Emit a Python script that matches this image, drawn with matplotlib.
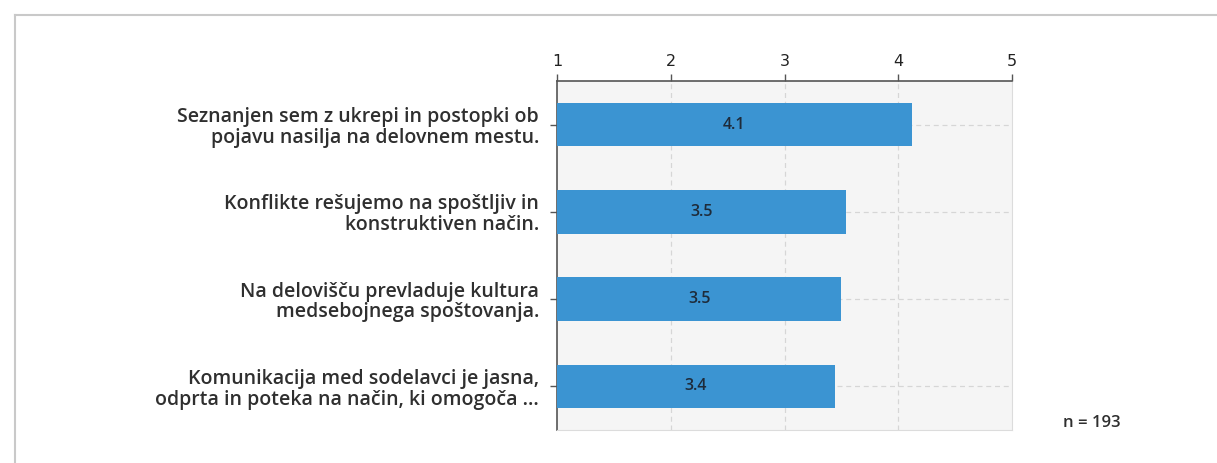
import matplotlib
matplotlib.use("Agg")
import matplotlib.pyplot as plt
from matplotlib.lines import Line2D

# statements and mean scores (1-5 scale)
statements = [
    "Seznanjen sem z ukrepi in postopki ob\npojavu nasilja na delovnem mestu.",
    "Konflikte rešujemo na spoštljiv in\nkonstruktiven način.",
    "Na delovišču prevladuje kultura\nmedsebojnega spoštovanja.",
    "Komunikacija med sodelavci je jasna,\nodprta in poteka na način, ki omogoča ...",
]
means = [4.12, 3.54, 3.50, 3.44]
scale_ticks = [1, 2, 3, 4, 5]
n_resp = 193

BAR = "#3b94d2"
TXT = "#2f2f2f"

fig = plt.figure(figsize=(12.17, 4.63), dpi=100)
ax = fig.add_axes([0.4577, 0.0713, 0.3739, 0.7537])

# outer frame around the chart
fw, fh = 1217, 463
fig.add_artist(Line2D([15 / fw, 1.0], [1 - 15 / fh, 1 - 15 / fh], transform=fig.transFigure,
                      color="#c9c9c9", lw=1.5))
fig.add_artist(Line2D([15 / fw, 15 / fw], [1 - 15 / fh, 0.0], transform=fig.transFigure,
                      color="#c9c9c9", lw=1.5))

ax.set_facecolor("#f5f5f5")
ypos = list(range(len(statements)))
bars = ax.barh(ypos, [m - 1 for m in means], left=1, height=0.5, color=BAR, zorder=3)

for b, m in zip(bars, means):
    ax.text(b.get_x() + b.get_width() / 2, b.get_y() + b.get_height() / 2, f"{m:.1f}",
            ha="center", va="center", fontsize=11.5, color="#1e2b3a", family="Open Sans",
            fontweight="semibold", zorder=4)

# dashed guide lines
for x in scale_ticks[1:-1]:
    ax.axvline(x, color="#d6d6d6", lw=0.9, ls=(0, (4, 3)), zorder=1)
for y in ypos:
    ax.axhline(y, color="#d6d6d6", lw=0.9, ls=(0, (4, 3)), zorder=1)

ax.set_xlim(1, 5)
ax.set_ylim(len(statements) - 0.5, -0.5)
ax.xaxis.tick_top()
ax.set_xticks(scale_ticks)
ax.set_xticklabels([str(t) for t in scale_ticks], fontsize=11.5, color="#222222")
ax.tick_params(axis="x", direction="out", length=5, width=1, color="#555555", pad=4)
ax.set_yticks(ypos)
ax.set_yticklabels(statements, fontsize=14, color=TXT, family="Open Sans",
                   fontweight="semibold", linespacing=1.05)
ax.tick_params(axis="y", direction="out", length=5, width=1, color="#555555", pad=8)

ax.spines["top"].set_color("#555555")
ax.spines["left"].set_color("#555555")
ax.spines["top"].set_linewidth(1.2)
ax.spines["left"].set_linewidth(1.2)
ax.spines["right"].set_color("#dcdcdc")
ax.spines["bottom"].set_color("#dcdcdc")

fig.text(1063 / fw, 1 - 423 / fh, f"n = {n_resp}", fontsize=12, color=TXT,
         family="Open Sans", fontweight="semibold", va="center", ha="left")

fig.savefig("out.png", dpi=100, facecolor="white")
